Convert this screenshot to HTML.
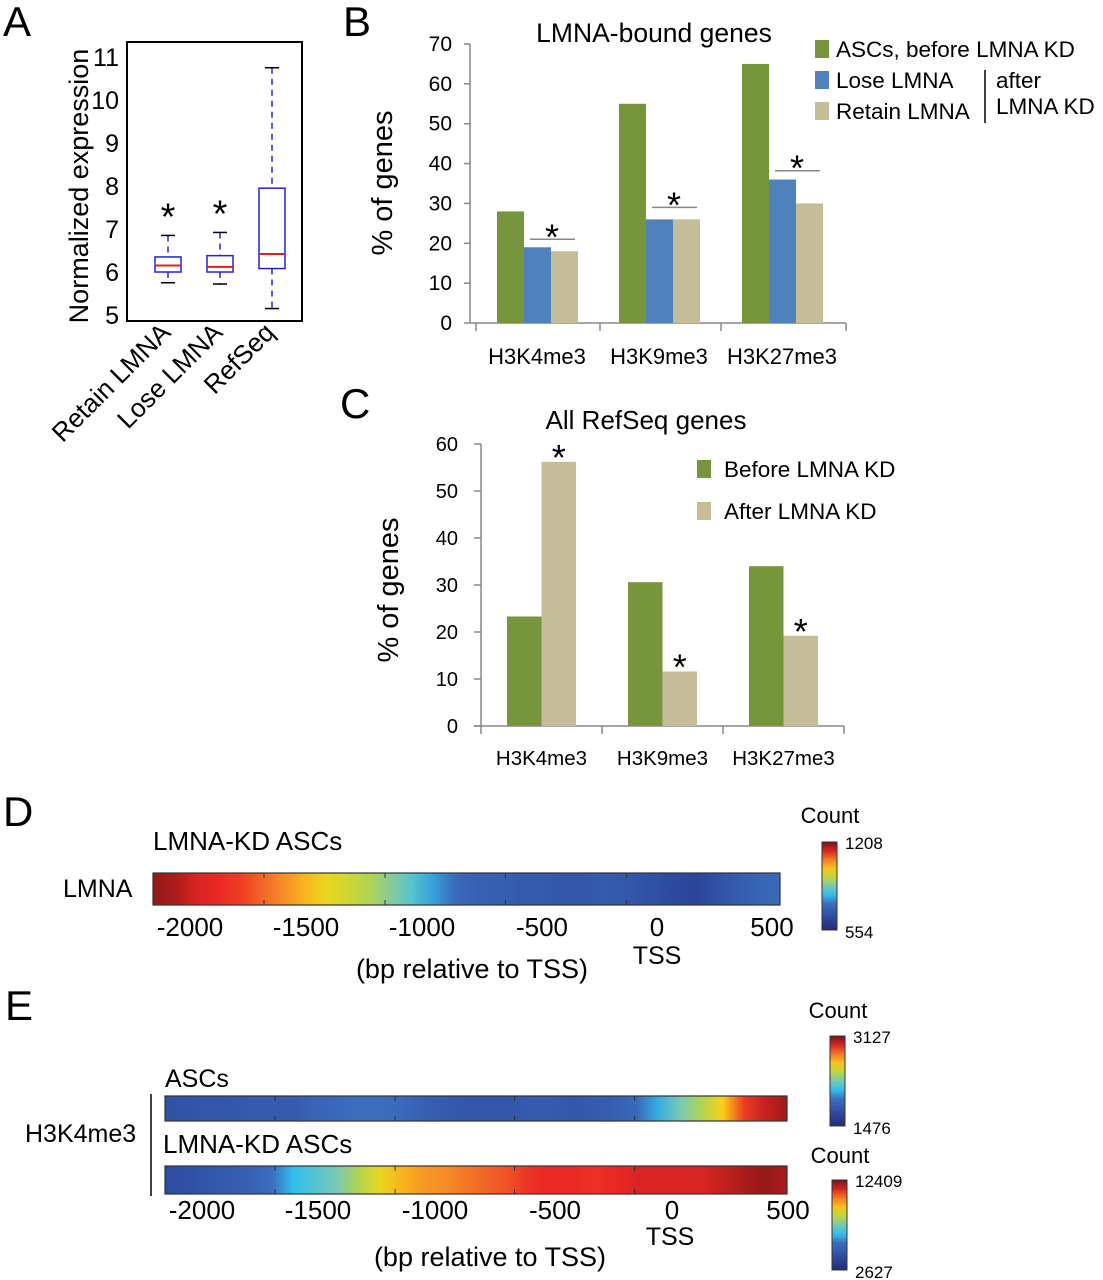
<!DOCTYPE html>
<html><head><meta charset="utf-8">
<style>
html,body{margin:0;padding:0;background:#fff;}
svg{display:block;font-family:"Liberation Sans",Arial,sans-serif;}
</style></head>
<body>
<svg id="fig" width="1103" height="1280" viewBox="0 0 1103 1280">
<defs id="defs"></defs>
<g font-size="42" fill="#000">
<text x="3" y="36">A</text>
<text x="343" y="36">B</text>
<text x="340" y="418">C</text>
<text x="3" y="826">D</text>
<text x="5" y="1020">E</text>
</g>
<g id="pa"></g>
<g id="pb"></g>
<g id="pc"></g>
<g id="pd"></g>
<g id="pe"></g>
</svg>
<script>
// ---- Panel A data ----
const aCategories = ["Retain LMNA","Lose LMNA","RefSeq"];
const aWhiskLo = [5.75,5.72,5.15];
const aQ1 = [6.0,6.0,6.08];
const aMedian = [6.15,6.12,6.42];
const aQ3 = [6.35,6.38,7.95];
const aWhiskHi = [6.85,6.92,10.75];
const aStars = [true,true,false];
const aTicks = [5,6,7,8,9,10,11];
// ---- Panel B data ----
const bCategories = ["H3K4me3","H3K9me3","H3K27me3"];
const bSeriesNames = ["ASCs, before LMNA KD","Lose LMNA","Retain LMNA"];
const bASCs = [28,55,65];
const bLose = [19,26,36];
const bRetain = [18,26,30];
const bSigLevel = [21,29,38.2];
const bTicks = [0,10,20,30,40,50,60,70];
// ---- Panel C data ----
const cCategories = ["H3K4me3","H3K9me3","H3K27me3"];
const cBefore = [23.3,30.6,34.0];
const cAfter = [56.2,11.6,19.2];
const cTicks = [0,10,20,30,40,50,60];
// ---- Heatmap data (normalized 0-1 colormap positions) ----
const dLMNA = [0.97,0.95,0.9,0.88,0.86,0.82,0.78,0.72,0.65,0.62,0.58,0.52,0.45,0.36,0.28,0.25,0.24,0.22,0.22,0.2,0.2,0.22,0.2,0.18,0.15,0.12,0.17,0.22,0.26,0.28];
const eASCs = [0.18,0.19,0.2,0.2,0.22,0.22,0.22,0.26,0.28,0.3,0.3,0.28,0.25,0.22,0.2,0.2,0.2,0.22,0.22,0.2,0.22,0.24,0.28,0.38,0.5,0.58,0.68,0.86,0.92,0.96];
const eKD = [0.15,0.17,0.2,0.22,0.25,0.3,0.4,0.45,0.5,0.58,0.65,0.72,0.76,0.78,0.8,0.82,0.84,0.87,0.88,0.88,0.87,0.88,0.9,0.9,0.9,0.9,0.92,0.95,0.97,0.95];
const bpTicks = ["-2000","-1500","-1000","-500","0","500"];
const dRange = ["1208","554"];
const e1Range = ["3127","1476"];
const e2Range = ["12409","2627"];

const NS="http://www.w3.org/2000/svg";
function mk(parent,tag,attrs,text){const e=document.createElementNS(NS,tag);for(const k in attrs)e.setAttribute(k,attrs[k]);if(text!==undefined)e.textContent=text;parent.appendChild(e);return e;}

// ---------- Panel A ----------
(function(){
const g=document.getElementById('pa');
const y=v=>315-(v-5)*(315-57)/6;
const x=i=>168+i*52;
const f=mk(g,'rect',{x:127,y:42,width:175,height:279,fill:'none',stroke:'#000','stroke-width':2});

aTicks.forEach(t=>{const tx=mk(g,'text',{x:119,y:y(t)+9,'text-anchor':'end','font-size':25},String(t));
});
const yt=mk(g,'text',{transform:'translate(88,186) rotate(-90)','text-anchor':'middle','font-size':27},'Normalized expression');

aCategories.forEach((c,i)=>{
 const bg=mk(g,'g',{});
 const cx=x(i),w=13;
 mk(bg,'line',{x1:cx,x2:cx,y1:y(aWhiskHi[i]),y2:y(aQ3[i]),stroke:'#2222dd','stroke-width':1.5,'stroke-dasharray':'6,5'});
 mk(bg,'line',{x1:cx,x2:cx,y1:y(aQ1[i]),y2:y(aWhiskLo[i]),stroke:'#2222dd','stroke-width':1.5,'stroke-dasharray':'6,5'});
 mk(bg,'line',{x1:cx-7,x2:cx+7,y1:y(aWhiskHi[i]),y2:y(aWhiskHi[i]),stroke:'#000','stroke-width':1.5});
 mk(bg,'line',{x1:cx-7,x2:cx+7,y1:y(aWhiskLo[i]),y2:y(aWhiskLo[i]),stroke:'#000','stroke-width':1.5});
 mk(bg,'rect',{x:cx-w,y:y(aQ3[i]),width:2*w,height:y(aQ1[i])-y(aQ3[i]),fill:'#fff',stroke:'#2222dd','stroke-width':1.5});
 mk(bg,'line',{x1:cx-w,x2:cx+w,y1:y(aMedian[i]),y2:y(aMedian[i]),stroke:'#e02020','stroke-width':2});
 if(aStars[i]){mk(bg,'text',{x:cx,y:y(aWhiskHi[i])-6,'text-anchor':'middle','font-size':38},'*');}
 const l=mk(g,'text',{transform:`translate(${cx+4},334) rotate(-45)`,'text-anchor':'end','font-size':26},c);
 
});
})();

// ---------- Panel B ----------
(function(){
const g=document.getElementById('pb');
const y=v=>323-v*(323-44)/70;
const gx=[497,619,742], bw=27;
const cols=['#77963c','#4f81bd','#c4bd97'];
mk(g,'line',{x1:470,x2:470,y1:44,y2:323,stroke:'#888','stroke-width':1.5});
mk(g,'line',{x1:470,x2:846,y1:323,y2:323,stroke:'#888','stroke-width':1.5});
[476,600,721,846].forEach(t=>mk(g,'line',{x1:t,x2:t,y1:323,y2:331,stroke:'#888','stroke-width':1.5}));
bTicks.forEach(t=>{mk(g,'line',{x1:464,x2:470,y1:y(t),y2:y(t),stroke:'#888','stroke-width':1.5});
const tx=mk(g,'text',{x:452,y:y(t)+7,'text-anchor':'end','font-size':21},String(t));
});
const yt=mk(g,'text',{transform:'translate(392,183) rotate(-90)','text-anchor':'middle','font-size':29},'% of genes');

const tt=mk(g,'text',{x:654,y:42,'text-anchor':'middle','font-size':26.5},'LMNA-bound genes');

const series=[bASCs,bLose,bRetain];
bCategories.forEach((c,i)=>{
 series.forEach((s,j)=>{const r=mk(g,'rect',{x:gx[i]+j*bw,y:y(s[i]),width:bw,height:y(0)-y(s[i]),fill:cols[j]});
 });
 const sy=y(bSigLevel[i]);
 mk(g,'line',{x1:gx[i]+33,x2:gx[i]+78,y1:sy,y2:sy,stroke:'#888','stroke-width':1.5});
 mk(g,'text',{x:gx[i]+55,y:sy+10,'text-anchor':'middle','font-size':36},'*');
 const l=mk(g,'text',{x:gx[i]+40,y:364,'text-anchor':'middle','font-size':22},c);
 
});
const ly=[49,80,111];
bSeriesNames.forEach((n,j)=>{const le=mk(g,'g',{});
 mk(le,'rect',{x:815,y:ly[j]-9,width:14,height:18,fill:cols[j]});
 mk(le,'text',{x:836,y:ly[j]+8,'font-size':22.5},n);});
mk(g,'line',{x1:985,x2:985,y1:70,y2:123,stroke:'#000','stroke-width':1.5});
mk(g,'text',{x:996,y:88,'font-size':22.5},'after');
mk(g,'text',{x:996,y:114,'font-size':22.5},'LMNA KD');
})();

// ---------- Panel C ----------
(function(){
const g=document.getElementById('pc');
const y=v=>726-v*(726-444)/60;
const gx=[507,628,749], bw=34.5;
const cols=['#77963c','#c4bd97'];
mk(g,'line',{x1:481,x2:481,y1:444,y2:726,stroke:'#888','stroke-width':1.5});
mk(g,'line',{x1:474,x2:844,y1:726,y2:726,stroke:'#888','stroke-width':1.5});
[481,602,723,844].forEach(t=>mk(g,'line',{x1:t,x2:t,y1:726,y2:734,stroke:'#888','stroke-width':1.5}));
cTicks.forEach(t=>{mk(g,'line',{x1:474,x2:481,y1:y(t),y2:y(t),stroke:'#888','stroke-width':1.5});
const tx=mk(g,'text',{x:458,y:y(t)+7,'text-anchor':'end','font-size':20},String(t));
});
const yt=mk(g,'text',{transform:'translate(398,590) rotate(-90)','text-anchor':'middle','font-size':29},'% of genes');

const tt=mk(g,'text',{x:646,y:429,'text-anchor':'middle','font-size':26},'All RefSeq genes');

cCategories.forEach((c,i)=>{
 [cBefore,cAfter].forEach((s,j)=>{const r=mk(g,'rect',{x:gx[i]+j*bw,y:y(s[i]),width:bw,height:y(0)-y(s[i]),fill:cols[j]});
 });
 mk(g,'text',{x:gx[i]+bw*1.5,y:y(cAfter[i])+8,'text-anchor':'middle','font-size':36},'*');
 const l=mk(g,'text',{x:gx[i]+bw,y:765,'text-anchor':'middle','font-size':20.5},c);
 
});
[['Before LMNA KD',469],['After LMNA KD',511]].forEach((e,j)=>{const le=mk(g,'g',{});
 mk(le,'rect',{x:697,y:e[1]-9,width:14,height:18,fill:cols[j]});
 mk(le,'text',{x:724,y:e[1]+8,'font-size':22.5},e[0]);});
})();

// ---------- Heatmaps ----------
const cmapStops=[[0,[35,45,120]],[0.15,[45,75,160]],[0.3,[60,110,190]],[0.4,[50,190,235]],[0.5,[120,200,180]],[0.6,[190,215,60]],[0.67,[250,215,20]],[0.78,[245,140,40]],[0.88,[235,40,35]],[1,[120,20,20]]];
function jet(v){
 v=Math.max(0,Math.min(1,v));
 for(let i=1;i<cmapStops.length;i++){if(v<=cmapStops[i][0]){const a=cmapStops[i-1],b=cmapStops[i];const t=(v-a[0])/(b[0]-a[0]);
  const c=a[1].map((x,k)=>Math.round(x+(b[1][k]-x)*t));return `rgb(${c[0]},${c[1]},${c[2]})`;}}
 return 'rgb(120,20,20)';
}
const defs=document.getElementById('defs');
let gid=0;
function grad(vals,vertical){
 const id='gr'+(gid++);
 const lg=mk(defs,'linearGradient',vertical?{id,x1:0,y1:1,x2:0,y2:0}:{id,x1:0,y1:0,x2:1,y2:0});
 vals.forEach((v,i)=>mk(lg,'stop',{offset:(i/(vals.length-1)),'stop-color':jet(v)}));
 return 'url(#'+id+')';
}
const cbVals=[0,0.1,0.2,0.3,0.4,0.5,0.6,0.7,0.8,0.9,1];
function heatbar(g,vals,x,y,w,h,name){
 const r=mk(g,'rect',{x,y,width:w,height:h,fill:grad(vals,false),stroke:'#333','stroke-width':1.2});
 
 [0.177,0.37,0.562,0.755].forEach(f=>mk(g,'line',{x1:x+w*f,x2:x+w*f,y1:y,y2:y+5,stroke:'#333'}));
 [0.177,0.37,0.562,0.755].forEach(f=>mk(g,'line',{x1:x+w*f,x2:x+w*f,y1:y+h-5,y2:y+h,stroke:'#333'}));
}
function colorbar(g,x,y,h,rng,cy,name){
 const r=mk(g,'rect',{x,y,width:15,height:h,fill:grad(cbVals,true),stroke:'#333','stroke-width':1});
 
 mk(g,'text',{x:x+8,y:cy,'text-anchor':'middle','font-size':22},'Count');
 mk(g,'text',{x:x+23,y:y+7,'font-size':17},rng[0]);
 mk(g,'text',{x:x+23,y:y+h+8,'font-size':17},rng[1]);
}
(function(){
const g=document.getElementById('pd');
mk(g,'text',{x:153,y:850,'font-size':26},'LMNA-KD ASCs');
mk(g,'text',{x:63,y:897,'font-size':25},'LMNA');
heatbar(g,dLMNA,153,873,627,32,'lmna-heatmap-row');
const px=[190,306,422,542,657,772];
bpTicks.forEach((t,i)=>{const tx=mk(g,'text',{x:px[i],y:936,'text-anchor':'middle','font-size':26},t);
});
mk(g,'text',{x:657,y:964,'text-anchor':'middle','font-size':25},'TSS');
const xt=mk(g,'text',{x:472,y:978,'text-anchor':'middle','font-size':27},'(bp relative to TSS)');

colorbar(g,822,842,88,dRange,823,'lmna-colorbar');
})();
(function(){
const g=document.getElementById('pe');
mk(g,'text',{x:165,y:1087,'font-size':25},'ASCs');
mk(g,'text',{x:163,y:1153,'font-size':26},'LMNA-KD ASCs');
mk(g,'text',{x:25,y:1142,'font-size':25},'H3K4me3');
mk(g,'line',{x1:151,x2:151,y1:1094,y2:1196,stroke:'#000','stroke-width':1.5});
heatbar(g,eASCs,165,1096,622,25,'ascs-heatmap-row');
heatbar(g,eKD,165,1166,622,28,'lmna-kd-heatmap-row');
const px=[202,318,435,555,672,788];
bpTicks.forEach((t,i)=>{const tx=mk(g,'text',{x:px[i],y:1219,'text-anchor':'middle','font-size':26},t);
});
mk(g,'text',{x:670,y:1245,'text-anchor':'middle','font-size':25},'TSS');
const xt=mk(g,'text',{x:490,y:1266,'text-anchor':'middle','font-size':27},'(bp relative to TSS)');

colorbar(g,830,1036,90,e1Range,1018,'ascs-colorbar');
colorbar(g,832,1180,90,e2Range,1163,'lmna-kd-colorbar');
})();
</script>
</body></html>
